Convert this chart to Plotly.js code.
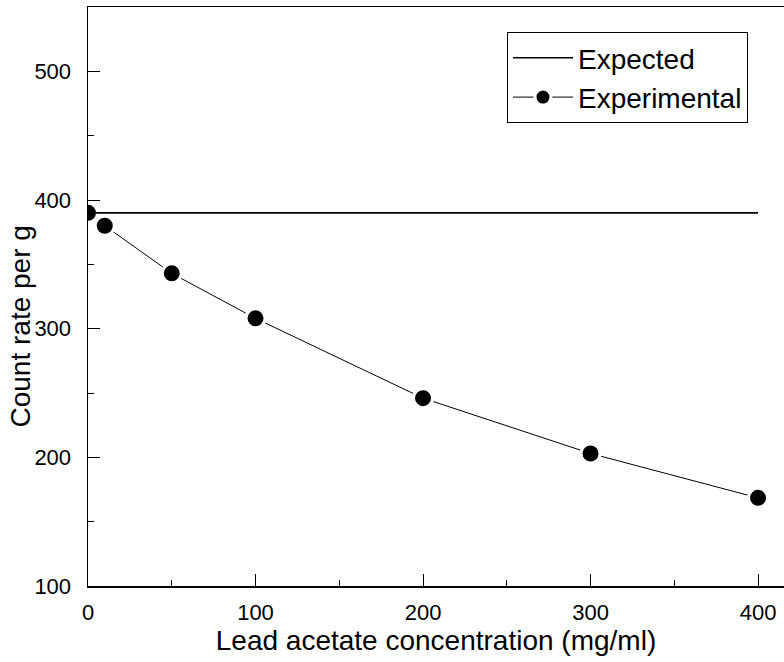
<!DOCTYPE html>
<html>
<head>
<meta charset="utf-8">
<script src="https://cdn.plot.ly/plotly-3.0.1.min.js"></script>
<style>
  html, body { margin: 0; padding: 0; background: #fff; }
  #chart { width: 784px; height: 662px; }
</style>
</head>
<body>
<div id="chart"></div>
<script>
// Lead acetate concentration (mg/ml) and measured count rate per gram
const concentration = [0, 10, 50, 100, 200, 300, 400];
const countRate = [390, 380, 343, 308, 246, 203, 168.5];

// Expected (unattenuated) count rate, constant across the range
const expectedX = [0, 400];
const expectedY = [390, 390];

const xTicks = [0, 100, 200, 300, 400];
const yTicks = [100, 200, 300, 400, 500];

const FONT = 'Arial, "Liberation Sans", Helvetica, sans-serif';

const traces = [
  {
    name: 'Experimental',
    x: concentration,
    y: countRate,
    type: 'scatter',
    mode: 'lines+markers',
    line: { color: '#000', width: 1 },
    marker: { color: '#000', size: 19, line: { color: '#fff', width: 3 } },
    hoverinfo: 'skip'
  },
  {
    name: 'Expected',
    x: expectedX,
    y: expectedY,
    type: 'scatter',
    mode: 'lines',
    line: { color: '#000', width: 1.6 },
    hoverinfo: 'skip'
  }
];

const axisCommon = {
  showgrid: false,
  zeroline: false,
  showline: true,
  linecolor: '#000',
  linewidth: 1.5,
  ticks: 'inside',
  ticklen: 12,
  tickwidth: 1,
  tickcolor: '#000',
  tickfont: { family: FONT, size: 22, color: '#000' },
  tickmode: 'array'
};

const layout = {
  width: 784,
  height: 662,
  margin: { l: 88, r: 0, t: 7, b: 76 },
  paper_bgcolor: '#fff',
  plot_bgcolor: '#fff',
  showlegend: true,
  font: { family: FONT, color: '#000' },
  xaxis: Object.assign({}, axisCommon, {
    range: [0, 415.5],
    tickvals: xTicks,
    ticktext: xTicks.map(String),
    mirror: true,
    ticklabelstandoff: 6,
    minor: { ticks: 'inside', ticklen: 6, tickwidth: 1, tickcolor: '#000', dtick: 50, tick0: 0, showgrid: false },
    title: { text: 'Lead acetate concentration (mg/ml)', font: { family: FONT, size: 28, color: '#000' }, standoff: 2 }
  }),
  yaxis: Object.assign({}, axisCommon, {
    range: [100, 550],
    tickvals: yTicks,
    ticktext: yTicks.map(String),
    ticklabelstandoff: 11,
    minor: { ticks: 'inside', ticklen: 6, tickwidth: 1, tickcolor: '#000', dtick: 50, tick0: 0, showgrid: false }
  }),
  annotations: [
    {
      text: 'Count rate per g',
      xref: 'paper', yref: 'paper',
      x: -88 / 696, xanchor: 'left', xshift: 2,
      y: (586 - 321) / 579, yanchor: 'middle', yshift: -6,
      textangle: -90,
      showarrow: false,
      font: { family: FONT, size: 28, color: '#000' }
    }
  ],
  legend: {
    x: (748 - 88) / 696, xanchor: 'right',
    y: (586 - 32) / 579, yanchor: 'top',
    traceorder: 'reversed',
    bgcolor: '#fff',
    bordercolor: '#000',
    borderwidth: 1,
    font: { family: FONT, size: 28, color: '#000' },
    itemwidth: 60
  }
};

Plotly.newPlot('chart', traces, layout, { staticPlot: true, displayModeBar: false });
</script>
</body>
</html>
